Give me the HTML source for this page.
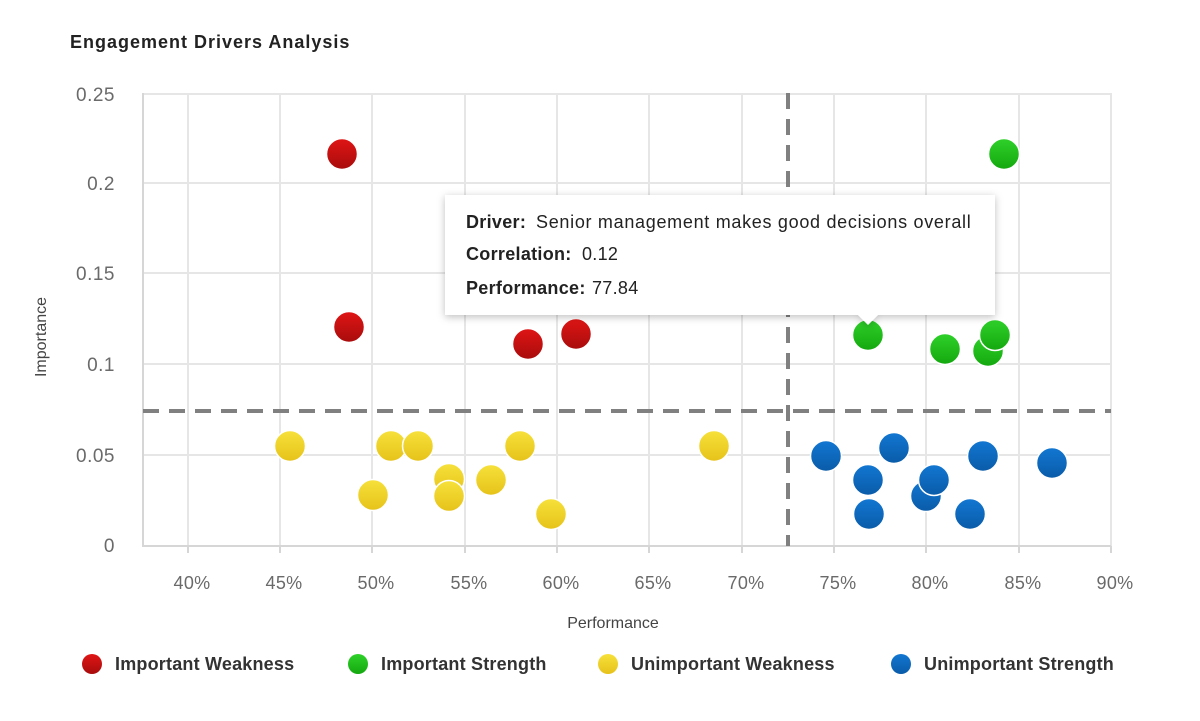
<!DOCTYPE html>
<html><head><meta charset="utf-8"><style>
body{margin:0;background:#fff;}
svg text{font-family:"Liberation Sans",sans-serif;}
</style></head><body>
<svg width="1200" height="716" xmlns="http://www.w3.org/2000/svg">
<defs>
<linearGradient id="r" x1="0" y1="0" x2="0" y2="1"><stop offset="0" stop-color="#e01515"/><stop offset="1" stop-color="#a80c0c"/></linearGradient>
<linearGradient id="g" x1="0" y1="0" x2="0" y2="1"><stop offset="0" stop-color="#2fd12a"/><stop offset="1" stop-color="#14a80f"/></linearGradient>
<linearGradient id="y" x1="0" y1="0" x2="0" y2="1"><stop offset="0" stop-color="#f6e13a"/><stop offset="1" stop-color="#e6c21a"/></linearGradient>
<linearGradient id="b" x1="0" y1="0" x2="0" y2="1"><stop offset="0" stop-color="#1277d2"/><stop offset="1" stop-color="#0a5ba8"/></linearGradient>
<filter id="sh" x="-10%" y="-10%" width="120%" height="130%"><feDropShadow dx="0" dy="2" stdDeviation="4" flood-color="#000" flood-opacity="0.25"/></filter>
</defs>
<text x="70" y="48" font-size="18" font-weight="bold" fill="#222" letter-spacing="1">Engagement Drivers Analysis</text>
<g stroke="#e6e6e6" stroke-width="2">
<line x1="188" y1="93" x2="188" y2="546"/><line x1="280" y1="93" x2="280" y2="546"/><line x1="372" y1="93" x2="372" y2="546"/><line x1="465" y1="93" x2="465" y2="546"/><line x1="557" y1="93" x2="557" y2="546"/><line x1="649" y1="93" x2="649" y2="546"/><line x1="742" y1="93" x2="742" y2="546"/><line x1="834" y1="93" x2="834" y2="546"/><line x1="926" y1="93" x2="926" y2="546"/><line x1="1019" y1="93" x2="1019" y2="546"/><line x1="1111" y1="93" x2="1111" y2="546"/>
<line x1="143" y1="94" x2="1111" y2="94"/><line x1="143" y1="183" x2="1111" y2="183"/><line x1="143" y1="273" x2="1111" y2="273"/><line x1="143" y1="364" x2="1111" y2="364"/><line x1="143" y1="455" x2="1111" y2="455"/>
</g>
<line x1="143" y1="93" x2="143" y2="547" stroke="#d6d6d6" stroke-width="2"/>
<line x1="143" y1="546" x2="1111" y2="546" stroke="#d6d6d6" stroke-width="2"/>
<g stroke="#d6d6d6" stroke-width="2"><line x1="188" y1="546" x2="188" y2="553"/><line x1="280" y1="546" x2="280" y2="553"/><line x1="372" y1="546" x2="372" y2="553"/><line x1="465" y1="546" x2="465" y2="553"/><line x1="557" y1="546" x2="557" y2="553"/><line x1="649" y1="546" x2="649" y2="553"/><line x1="742" y1="546" x2="742" y2="553"/><line x1="834" y1="546" x2="834" y2="553"/><line x1="926" y1="546" x2="926" y2="553"/><line x1="1019" y1="546" x2="1019" y2="553"/><line x1="1111" y1="546" x2="1111" y2="553"/></g>
<g font-size="19" fill="#6a6a6a" text-anchor="end" letter-spacing="0.5">
<text x="115" y="101">0.25</text><text x="115" y="190">0.2</text><text x="115" y="280">0.15</text><text x="115" y="371">0.1</text><text x="115" y="462">0.05</text><text x="115" y="552">0</text>
</g>
<g font-size="18" fill="#6a6a6a" text-anchor="middle" letter-spacing="0.3">
<text x="192" y="589">40%</text><text x="284" y="589">45%</text><text x="376" y="589">50%</text><text x="469" y="589">55%</text><text x="561" y="589">60%</text><text x="653" y="589">65%</text><text x="746" y="589">70%</text><text x="838" y="589">75%</text><text x="930" y="589">80%</text><text x="1023" y="589">85%</text><text x="1115" y="589">90%</text>
</g>
<text x="613" y="628" font-size="16" fill="#444" text-anchor="middle">Performance</text>
<text transform="translate(46,337) rotate(-90)" font-size="16" fill="#444" text-anchor="middle">Importance</text>
<g stroke="#808080" stroke-width="4" stroke-dasharray="16,10">
<line x1="143" y1="411" x2="1111" y2="411"/>
<line x1="788" y1="93" x2="788" y2="546"/>
</g>
<g stroke="#fff" stroke-width="1.5">
<g fill="url(#r)"><circle cx="342" cy="154" r="15.5"/><circle cx="349" cy="327" r="15.5"/><circle cx="528" cy="344" r="15.5"/><circle cx="576" cy="334" r="15.5"/><circle cx="465" cy="298" r="15.5"/><circle cx="690" cy="298" r="15.5"/></g>
<g fill="url(#g)"><circle cx="1004" cy="154" r="15.5"/><circle cx="868" cy="335" r="15.5"/><circle cx="945" cy="349" r="15.5"/><circle cx="988" cy="351" r="15.5"/><circle cx="995" cy="335" r="15.5"/></g>
<g fill="url(#y)"><circle cx="290" cy="446" r="15.5"/><circle cx="373" cy="495" r="15.5"/><circle cx="391" cy="446" r="15.5"/><circle cx="418" cy="446" r="15.5"/><circle cx="449" cy="479" r="15.5"/><circle cx="449" cy="496" r="15.5"/><circle cx="491" cy="480" r="15.5"/><circle cx="520" cy="446" r="15.5"/><circle cx="551" cy="514" r="15.5"/><circle cx="714" cy="446" r="15.5"/></g>
<g fill="url(#b)"><circle cx="826" cy="456" r="15.5"/><circle cx="868" cy="480" r="15.5"/><circle cx="869" cy="514" r="15.5"/><circle cx="894" cy="448" r="15.5"/><circle cx="926" cy="496" r="15.5"/><circle cx="934" cy="480" r="15.5"/><circle cx="970" cy="514" r="15.5"/><circle cx="983" cy="456" r="15.5"/><circle cx="1052" cy="463" r="15.5"/></g>
</g>
<path d="M445,195 H995 V315 H878 L868,325 L858,315 H445 Z" fill="#fff" filter="url(#sh)"/>
<g font-size="18" fill="#222" letter-spacing="0.3">
<text x="466" y="228"><tspan font-weight="bold">Driver:</tspan><tspan x="536" letter-spacing="0.7">Senior management makes good decisions overall</tspan></text>
<text x="466" y="260"><tspan font-weight="bold">Correlation:</tspan><tspan x="582">0.12</tspan></text>
<text x="466" y="294"><tspan font-weight="bold">Performance:</tspan><tspan x="592">77.84</tspan></text>
</g>
<g font-size="18" fill="#333" font-weight="bold" letter-spacing="0.2">
<circle cx="92" cy="664" r="10" fill="url(#r)"/><text x="115" y="670">Important Weakness</text>
<circle cx="358" cy="664" r="10" fill="url(#g)"/><text x="381" y="670">Important Strength</text>
<circle cx="608" cy="664" r="10" fill="url(#y)"/><text x="631" y="670">Unimportant Weakness</text>
<circle cx="901" cy="664" r="10" fill="url(#b)"/><text x="924" y="670">Unimportant Strength</text>
</g>
</svg>
</body></html>
